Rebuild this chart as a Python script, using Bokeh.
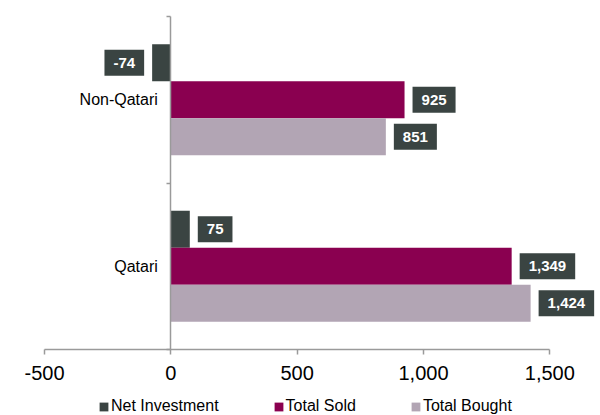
from bokeh.plotting import figure
from bokeh.models import (Range1d, LinearAxis, FixedTicker, NumeralTickFormatter,
                          Label, Legend, LegendItem, ColumnDataSource)
from bokeh.embed import file_html
from bokeh.resources import INLINE

# ---- data ----
categories = ["Qatari", "Non-Qatari"]          # bottom to top
series_names = ["Net Investment", "Total Sold", "Total Bought"]
net_investment = [75, -74]
total_sold = [1349, 925]
total_bought = [1424, 851]
x_ticks = [-500, 0, 500, 1000, 1500]

# ---- style / layout ----
FONT = "Liberation Sans"
colors = ["#3a4442", "#8a0050", "#b2a5b4"]
label_bg = "#3a4442"
axis_col = "#9a9a9a"
bar_h = 2.0 / 9.0
offsets = [bar_h, 0.0, -bar_h]
n = len(categories)

W, H = 600, 415
p = figure(width=W, height=H, output_backend="svg", toolbar_location=None,
           x_range=Range1d(-674.2, 1700.6), y_range=Range1d(-0.8964, 1.5961),
           min_border_left=0, min_border_right=0, min_border_top=0, min_border_bottom=0,
           y_axis_location=None)
p.outline_line_color = None
p.xgrid.visible = False
p.ygrid.visible = False
p.background_fill_color = "white"
p.border_fill_color = "white"

# x axis, drawn at the bottom of the category area
xa = p.xaxis[0]
xa.fixed_location = -0.5
xa.ticker = FixedTicker(ticks=x_ticks, minor_ticks=[])
xa.formatter = NumeralTickFormatter(format="0,0")
xa.bounds = (x_ticks[0], x_ticks[-1])
xa.axis_line_color = axis_col
xa.axis_line_width = 1.5
xa.major_tick_line_color = axis_col
xa.major_tick_line_width = 1.5
xa.major_tick_in = 0
xa.major_tick_out = 5
xa.minor_tick_line_color = None
xa.major_label_text_font = FONT
xa.major_label_text_font_size = "20px"
xa.major_label_text_color = "#000000"
xa.major_label_standoff = 12

# y axis line at x=0 with ticks at category boundaries
bounds_axis = LinearAxis(fixed_location=0, bounds=(-0.5, n - 0.5),
                         ticker=FixedTicker(ticks=[i - 0.5 for i in range(n + 1)], minor_ticks=[]),
                         axis_line_color=axis_col, axis_line_width=1.5,
                         major_tick_line_color=axis_col, major_tick_line_width=1.5,
                         major_tick_in=0, major_tick_out=4,
                         minor_tick_line_color=None,
                         major_label_text_font_size="0px",
                         major_label_overrides={i - 0.5: "" for i in range(n + 1)})
p.add_layout(bounds_axis, "left")

# category labels
cat_axis = LinearAxis(fixed_location=0,
                      ticker=FixedTicker(ticks=list(range(n)), minor_ticks=[]),
                      axis_line_color=None, major_tick_line_color=None,
                      minor_tick_line_color=None, major_tick_in=0, major_tick_out=0,
                      major_label_standoff=13,
                      major_label_text_font=FONT, major_label_text_font_size="16px",
                      major_label_text_color="#000000",
                      major_label_overrides={i: c for i, c in enumerate(categories)})
p.add_layout(cat_axis, "left")

# bars + value boxes
all_values = [net_investment, total_sold, total_bought]
renderers = []
for name, vals, col, off in zip(series_names, all_values, colors, offsets):
    src = ColumnDataSource(dict(y=[i + off for i in range(n)], right=vals))
    r = p.hbar(y="y", left=0, right="right", height=bar_h, source=src,
               fill_color=col, line_color=None)
    renderers.append(r)
    for i, v in enumerate(vals):
        lab = Label(x=v, y=i + off, text="{:,}".format(v),
                    x_offset=8 if v >= 0 else -8,
                    text_align="left" if v >= 0 else "right",
                    text_baseline="middle",
                    text_font=FONT, text_font_size="15px", text_font_style="bold",
                    text_color="white",
                    background_fill_color=label_bg,
                    padding=dict(left=9, right=9, top=8, bottom=8))
        p.add_layout(lab)

legend = Legend(items=[LegendItem(label=nm, renderers=[r]) for nm, r in zip(series_names, renderers)],
                orientation="horizontal", location=(98, 0),
                glyph_width=11, glyph_height=11, label_standoff=2, spacing=54,
                label_height=16, padding=0, margin=0,
                label_text_font=FONT, label_text_font_size="16px", label_text_color="#000000",
                border_line_color=None, background_fill_alpha=0)
p.add_layout(legend, "center")

open("out.html", "w").write(file_html(p, INLINE))
